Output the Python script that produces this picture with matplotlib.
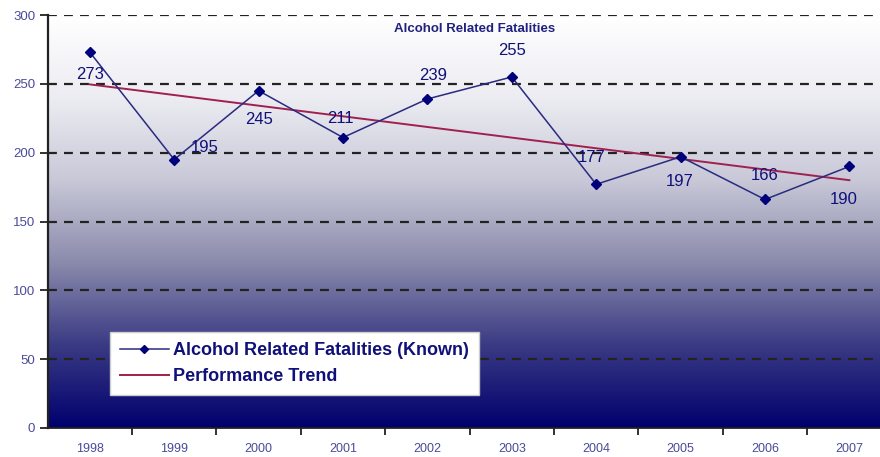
import numpy as np
import matplotlib
matplotlib.use("Agg")
import matplotlib.pyplot as plt
from matplotlib.colors import LinearSegmentedColormap

years = ["1998", "1999", "2000", "2001", "2002", "2003", "2004", "2005", "2006", "2007"]
fatalities = [273, 195, 245, 211, 239, 255, 177, 197, 166, 190]
y_ticks = [0, 50, 100, 150, 200, 250, 300]

plt.rcParams['font.family'] = ['Liberation Sans', 'DejaVu Sans']

# label offsets (points) for each data label
label_offsets = [(0, -16), (22, 9), (0, -21), (-2, 14), (4, 17), (0, 19), (-3, 19), (-1, -18), (0, 17), (-4, -24)]

fig = plt.figure(figsize=(8.8, 4.57), dpi=100)
W, H = 880, 457
left_px, right_px = 47.6, 891.6
top_px, bot_px = 15, 428
ax = fig.add_axes([left_px / W, 1 - bot_px / H, (right_px - left_px) / W, (bot_px - top_px) / H])

x = np.arange(len(years))
ax.set_xlim(-0.5, len(years) - 0.5)
ax.set_ylim(0, 300)

# gradient background
cmap = LinearSegmentedColormap.from_list(
    "bg", [(0.0, "#00006e"), (0.2, "#3a3a84"), (0.4, "#8a8aac"),
           (0.6, "#c8c8d8"), (0.8, "#ececf2"), (1.0, "#ffffff")])
grad = np.linspace(0, 1, 256).reshape(-1, 1)
ax.imshow(grad, cmap=cmap, aspect="auto", origin="lower",
          extent=[-0.5, len(years) - 0.5, 0, 300], zorder=0)

# gridlines
for yv in y_ticks[1:]:
    ax.axhline(yv, color="#222222", lw=1.6, ls=(0, (4, 3.2)), zorder=1)

# data line
ax.plot(x, fatalities, color="#2a2a80", lw=1.1, marker="D", markersize=5.5,
        markerfacecolor="#00007a", markeredgecolor="#00007a", zorder=3,
        label="Alcohol Related Fatalities (Known)")

# trend
coef = np.polyfit(x, fatalities, 1)
ax.plot(x, np.polyval(coef, x), color="#a02050", lw=1.4, zorder=2,
        label="Performance Trend")

# data labels
for xi, v, off in zip(x, fatalities, label_offsets):
    ax.annotate(str(v), (xi, v), xytext=off, textcoords="offset points",
                ha="center", va="center", fontsize=12, color="#10107a", zorder=4)

ax.text(475 / W, 1 - 23 / H, "Alcohol Related Fatalities", transform=fig.transFigure,
        ha="center", va="top", fontsize=9.5, fontweight="bold", color="#202080")

# axes styling
for s in ["top", "right"]:
    ax.spines[s].set_visible(False)
ax.spines["left"].set_color("#222222")
ax.spines["left"].set_linewidth(1.6)
ax.spines["bottom"].set_color("#222222")
ax.spines["bottom"].set_linewidth(1.3)
ax.set_yticks(y_ticks)
ax.set_yticklabels([str(t) for t in y_ticks], fontsize=9.5, color="#4a4a9a")
ax.set_xticks(x)
ax.set_xticklabels(years, fontsize=9, color="#4a4a9a")
ax.set_xticks(np.arange(len(years)) + 0.5, minor=True)
ax.tick_params(axis="x", which="major", length=0, pad=11)
ax.tick_params(axis="x", which="minor", length=5, width=1.3, color="#222222")
ax.tick_params(axis="y", length=6, width=1.3, color="#222222", pad=3)

leg = ax.legend(loc="lower left", bbox_to_anchor=((110 - left_px) / (right_px - left_px), (428 - 395) / 413),
                frameon=True, fancybox=False, handlelength=2.7, handletextpad=0.25,
                borderpad=0.55, labelspacing=0.5, borderaxespad=0,
                prop={"weight": "bold", "size": 13})
leg.get_frame().set_facecolor("white")
leg.get_frame().set_edgecolor("#cccccc")
leg.get_frame().set_alpha(1)
leg.legend_handles[0].set_markersize(4.5)
for t in leg.get_texts():
    t.set_color("#10107a")

fig.savefig("out.png", dpi=100)
